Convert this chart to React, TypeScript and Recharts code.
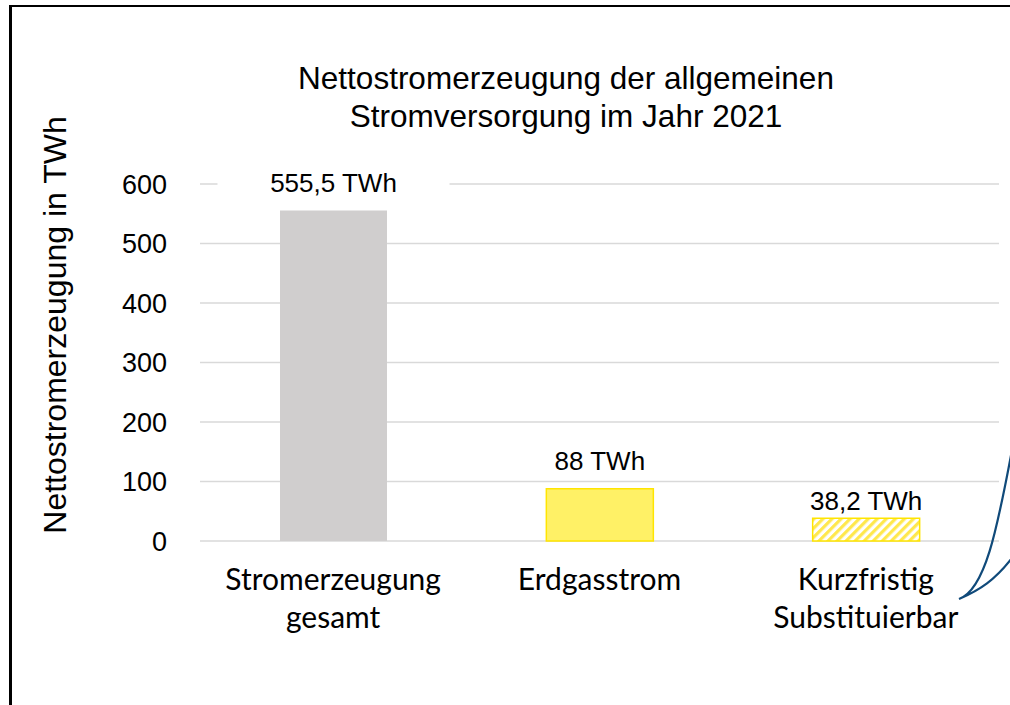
import React from 'react';
import {
  BarChart,
  Bar,
  Cell,
  XAxis,
  YAxis,
  CartesianGrid,
  LabelList,
} from 'recharts';

// categories (line breaks as in the original axis labels)
const categories = ['Stromerzeugung\ngesamt', 'Erdgasstrom', 'Kurzfristig\nSubstituierbar'];
// Nettostromerzeugung in TWh
const values = [555.5, 88, 38.2];
const yTicks = [0, 100, 200, 300, 400, 500, 600];

const data = categories.map((name, i) => ({ name, value: values[i] }));

const barStyles = [
  { fill: '#d0cece', stroke: 'none' },
  { fill: '#fff166', stroke: '#ffe500' },
  { fill: 'url(#hatchYellow)', stroke: '#ffe500' },
];

const arial = '"Liberation Sans", Arial, sans-serif';
const calibriLike = 'Lato, "Noto Sans", sans-serif';

const CategoryTick = (props: any) => {
  const { x, y, payload } = props;
  const lines = String(payload.value).split('\n');
  return (
    <text textAnchor="middle" fontFamily={calibriLike} fontSize={30} fill="#000">
      {lines.map((line, i) => (
        <tspan key={i} x={x} y={y + 49 + i * 38}>
          {line}
        </tspan>
      ))}
    </text>
  );
};

const ValueLabel = (props: any) => {
  const { x, y, width, value, index } = props;
  const cx = x + width / 2;
  // third label sits a bit closer to its bar in the original
  const baseline = y - (index === 2 ? 8.5 : 18.5);
  return (
    <g>
      <rect x={cx - 116} y={baseline - 24} width={232} height={28} fill="#fff" />
      <text x={cx} y={baseline} textAnchor="middle" fontFamily={arial} fontSize={26} fill="#000">
        {`${Number(value).toLocaleString('de-DE')} TWh`}
      </text>
    </g>
  );
};

export default function App() {
  return (
    <div
      style={{
        position: 'absolute',
        left: 0,
        top: 0,
        width: 1010,
        height: 705,
        overflow: 'hidden',
        background: '#fff',
      }}
    >
      <div
        style={{
          position: 'absolute',
          left: 9,
          top: 5,
          width: 1100,
          height: 800,
          borderTop: '2px solid #000',
          borderLeft: '3px solid #000',
        }}
      />
      <div style={{ position: 'absolute', left: 0, top: 0 }}>
        <BarChart
          width={1010}
          height={705}
          data={data}
          margin={{ top: 184, right: 11, bottom: 0, left: 0 }}
        >
          <defs>
            <pattern
              id="hatchYellow"
              patternUnits="userSpaceOnUse"
              width={6.4}
              height={6.4}
              patternTransform="rotate(45)"
            >
              <rect width={6.4} height={6.4} fill="#fff" />
              <rect width={3.2} height={6.4} fill="#ffe84d" />
            </pattern>
          </defs>
          <CartesianGrid vertical={false} stroke="#d9d9d9" strokeWidth={1.5} />
          <XAxis
            dataKey="name"
            axisLine={false}
            tickLine={false}
            tickSize={0}
            tickMargin={0}
            height={164}
            interval={0}
            tick={<CategoryTick />}
          />
          <YAxis
            domain={[0, 600]}
            ticks={yTicks}
            axisLine={false}
            tickLine={false}
            tickSize={0}
            tickMargin={33}
            width={200}
            tick={{ fontFamily: arial, fontSize: 27, fill: '#000' }}
          />
          <Bar dataKey="value" barSize={107} strokeWidth={1.5} isAnimationActive={false}>
            {data.map((d, i) => (
              <Cell key={d.name} fill={barStyles[i].fill} stroke={barStyles[i].stroke} />
            ))}
            <LabelList dataKey="value" content={<ValueLabel />} />
          </Bar>
        </BarChart>
      </div>
      <svg
        width={1010}
        height={705}
        style={{ position: 'absolute', left: 0, top: 0, pointerEvents: 'none' }}
      >
        <text textAnchor="middle" fontFamily={arial} fontSize={31.5} fill="#000">
          <tspan x={566} y={89}>Nettostromerzeugung der allgemeinen</tspan>
          <tspan x={566} y={127}>Stromversorgung im Jahr 2021</tspan>
        </text>
        <text
          x={66}
          y={325}
          transform="rotate(-90, 66, 325)"
          textAnchor="middle"
          fontFamily={arial}
          fontSize={32}
          fill="#000"
        >
          Nettostromerzeugung in TWh
        </text>
        {/* brace pointing to the right-hand callout */}
        <path
          d="M959,599 C985,590 997,530 1012,450 M959,599 C980,590 995,580 1012,558"
          fill="none"
          stroke="#104a7a"
          strokeWidth={2.2}
        />
      </svg>
    </div>
  );
}
